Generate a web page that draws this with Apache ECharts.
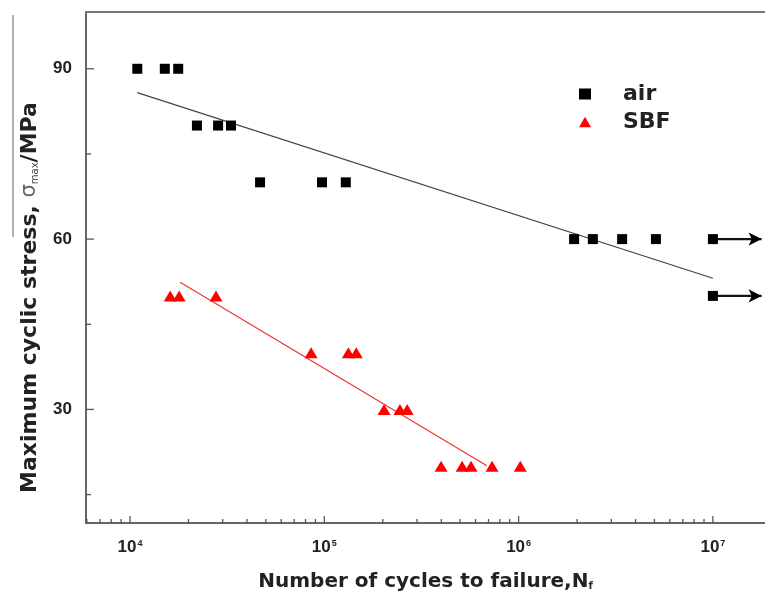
<!DOCTYPE html>
<html>
<head>
<meta charset="utf-8">
<script src="https://cdn.jsdelivr.net/npm/echarts@6/dist/echarts.min.js"></script>
<style>
html,body{margin:0;padding:0;background:#fff;}
#chart{width:765px;height:598px;}
</style>
</head>
<body>
<div id="chart"></div>
<script>
// ---- data ----
const airN = [10900, 15100, 17700, 22100, 28400, 33100, 46700, 97300, 129000, 1930000, 2410000, 3410000, 5090000, 10000000, 10000000];
const airS = [90, 90, 90, 80, 80, 80, 70, 70, 70, 60, 60, 60, 60, 60, 50];
const sbfN = [16100, 17900, 27700, 85500, 133000, 146000, 203000, 245000, 267000, 399000, 512000, 569000, 730000, 1020000];
const sbfS = [50, 50, 50, 40, 40, 40, 30, 30, 30, 20, 20, 20, 20, 20];
// fitted lines (end points)
const airFitN = [10900, 10000000];
const airFitS = [85.8, 53.1];
const sbfFitN = [18100, 687000];
const sbfFitS = [52.4, 20.1];
// run-out arrows
const arrowFromN = [10000000, 10000000];
const arrowToN = 17800000;
const arrowS = [60, 50];
// axes
const X_MIN = 5935, X_MAX = 18540000;
const Y_MIN = 10, Y_MAX = 100;
const xMajorTicks = [1e4, 1e5, 1e6, 1e7];
const xMinorTicks = [6e3, 7e3, 8e3, 9e3,
  2e4, 3e4, 4e4, 5e4, 6e4, 7e4, 8e4, 9e4,
  2e5, 3e5, 4e5, 5e5, 6e5, 7e5, 8e5, 9e5,
  2e6, 3e6, 4e6, 5e6, 6e6, 7e6, 8e6, 9e6];
const yMajorTicks = [30, 60, 90];
const yMinorTicks = [15, 45, 75];

const FONT = '"Liberation Sans", Arial, sans-serif';
const NARROW = '"Liberation Sans Narrow", "Liberation Sans", Arial, sans-serif';
const WIDE = '"DejaVu Sans", "Liberation Sans", sans-serif';

const pairs = (xs, ys) => xs.map((x, i) => [x, ys[i]]);

// tick data: [x, y, length, direction(0=up,1=right)]
const tickData = []
  .concat(xMajorTicks.map(v => [v, Y_MIN, 7, 0]))
  .concat(xMinorTicks.map(v => [v, Y_MIN, 4, 0]))
  .concat(yMajorTicks.map(v => [X_MIN, v, 8, 1]))
  .concat(yMinorTicks.map(v => [X_MIN, v, 5, 1]));

function renderTick(params, api) {
  const p = api.coord([api.value(0), api.value(1)]);
  const len = api.value(2);
  const dir = api.value(3);
  const shape = dir === 0
    ? { x1: p[0], y1: p[1], x2: p[0], y2: p[1] - len }
    : { x1: p[0], y1: p[1], x2: p[0] + len, y2: p[1] };
  return { type: 'line', shape: shape, style: { stroke: '#555', lineWidth: 1.3 } };
}

const arrowSeries = arrowS.map((s, i) => ({
  type: 'line',
  silent: true,
  data: [
    { value: [arrowFromN[i], s], symbol: 'none' },
    { value: [arrowToN, s], symbol: 'arrow', symbolSize: [10, 13], symbolRotate: -90 }
  ],
  showSymbol: true,
  lineStyle: { color: '#111', width: 2.2 },
  itemStyle: { color: '#000' },
  z: 3
}));

const chart = echarts.init(document.getElementById('chart'), null, { renderer: 'canvas' });
chart.setOption({
  animation: false,
  backgroundColor: '#fff',
  grid: { left: 86, top: 12, right: 0, bottom: 75, containLabel: false, outerBoundsMode: 'none' },
  graphic: [{
    type: 'line', silent: true,
    shape: { x1: 13, y1: 15, x2: 13, y2: 237 },
    style: { stroke: '#999', lineWidth: 1.5 }
  }],
  legend: {
    data: ['air', { name: 'SBF', icon: 'path://M7,0L14,12L0,12Z' }],
    orient: 'vertical',
    left: 574,
    top: 77,
    padding: 5,
    itemWidth: 12,
    itemHeight: 11,
    itemGap: 4,
    textStyle: { fontFamily: WIDE, fontSize: 22, fontWeight: 'bold', color: '#222', lineHeight: 24, padding: [0, 0, 0, 27] }
  },
  xAxis: [{
    type: 'log',
    logBase: 10,
    min: X_MIN,
    max: X_MAX,
    splitNumber: 3,
    position: 'bottom',
    axisLine: { show: true, lineStyle: { color: '#666', width: 2 } },
    axisTick: { show: false },
    splitLine: { show: false },
    minorTick: { show: false },
    axisLabel: {
      margin: 16,
      color: '#222',
      formatter: function (v) {
        const e = Math.log10(v);
        if (Math.abs(e - Math.round(e)) > 1e-6) return '';
        return '{b|10}{s|' + Math.round(e) + '}';
      },
      rich: {
        b: { fontFamily: NARROW, fontSize: 17, fontWeight: 'bold', color: '#222', lineHeight: 17 },
        s: { fontFamily: NARROW, fontSize: 9, fontWeight: 'bold', color: '#222', verticalAlign: 'top', padding: [0, 0, 8, 1] }
      }
    },
    name: 'Number of cycles to failure,N{sub|f}',
    nameLocation: 'middle',
    nameGap: 49,
    nameTextStyle: {
      fontFamily: WIDE, fontSize: 20, fontWeight: 'bold', color: '#222',
      rich: { sub: { fontFamily: WIDE, fontSize: 10, fontWeight: 'bold', color: '#222', padding: [8, 0, 0, 0] } }
    }
  }, {
    type: 'value',
    position: 'top',
    min: 0, max: 1,
    axisLine: { show: true, lineStyle: { color: '#777', width: 2 } },
    axisTick: { show: false },
    axisLabel: { show: false },
    splitLine: { show: false }
  }],
  yAxis: {
    type: 'value',
    min: Y_MIN,
    max: Y_MAX,
    interval: 5,
    axisLine: { show: true, lineStyle: { color: '#666', width: 2 } },
    axisTick: { show: false },
    splitLine: { show: false },
    axisLabel: {
      margin: 14,
      fontFamily: FONT, fontSize: 17, fontWeight: 'bold', color: '#222',
      formatter: function (v) { return yMajorTicks.indexOf(v) >= 0 ? String(v) : ''; }
    },
    name: 'Maximum cyclic stress, {sig|σ}{sub|max}/MPa',
    nameLocation: 'middle',
    nameRotate: 90,
    nameGap: 45,
    nameTextStyle: {
      fontFamily: WIDE, fontSize: 22, fontWeight: 'bold', color: '#222',
      padding: [0, 60, 0, 0],
      rich: {
        sig: { fontFamily: WIDE, fontSize: 21, fontWeight: 'normal', color: '#666' },
        sub: { fontFamily: WIDE, fontSize: 10, fontWeight: 'normal', color: '#444', padding: [10, 0, 0, 0] }
      }
    }
  },
  series: [
    {
      name: 'air', type: 'scatter', data: pairs(airN, airS),
      symbol: 'rect', symbolSize: 10, itemStyle: { color: '#000', opacity: 1 }, z: 4
    },
    {
      name: 'SBF', type: 'scatter', data: pairs(sbfN, sbfS),
      symbol: 'triangle', symbolSize: [13, 11], itemStyle: { color: '#ff0000', opacity: 1 }, z: 4
    },
    {
      name: 'airFit', type: 'line', data: pairs(airFitN, airFitS), showSymbol: false, symbol: 'none',
      lineStyle: { color: '#444', width: 1.2 }, silent: true, z: 2
    },
    {
      name: 'sbfFit', type: 'line', data: pairs(sbfFitN, sbfFitS), showSymbol: false, symbol: 'none',
      lineStyle: { color: '#ee3333', width: 1.2 }, silent: true, z: 2
    },
    ...arrowSeries,
    {
      name: 'ticks', type: 'custom', data: tickData, renderItem: renderTick, silent: true, clip: false, z: 5,
      encode: { x: 0, y: 1 }
    }
  ]
});
</script>
</body>
</html>
